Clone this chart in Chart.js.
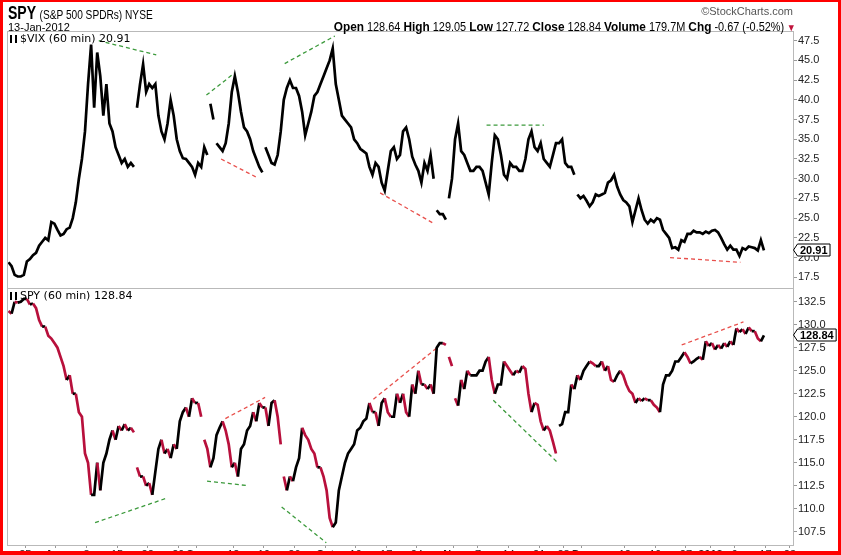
<!DOCTYPE html>
<html>
<head>
<meta charset="utf-8">
<script src="https://cdn.jsdelivr.net/npm/chart.js@4.4.1/dist/chart.umd.min.js"></script>
<style>
  html, body { margin: 0; padding: 0; background: #fff; }
  #wrap { position: relative; width: 841px; height: 555px; overflow: hidden; }
  #c { position: absolute; left: 0; top: 0; }
  .t { position: absolute; white-space: nowrap; font-family: 'Liberation Sans', Arial, sans-serif; color: #000; line-height: 1; }
  .lbl { font-family: 'DejaVu Sans', sans-serif; font-size: 11px; }
  .ico { display: inline-block; width: 7px; height: 8px; margin-right: 3px; border-left: 2px solid #000; border-right: 2px solid #000; box-sizing: border-box; vertical-align: -1px; }
  #frame { position: absolute; left: 0; top: 0; width: 841px; height: 555px; box-sizing: border-box;
           border: 3px solid #f00; border-top-width: 2px; border-bottom-width: 4px; pointer-events: none; }
</style>
</head>
<body>
<div id="wrap">
  <canvas id="c" width="841" height="555"></canvas>
  <div class="t" style="left:8px;top:4px;transform:scaleX(0.78);transform-origin:left top;"><b style="font-size:18px;">SPY</b> <span style="font-size:13px;">(S&amp;P 500 SPDRs) NYSE</span></div>
  <div class="t" style="right:48px;top:6px;font-size:11px;color:#555;">&copy;StockCharts.com</div>
  <div class="t" style="left:8px;top:22px;font-size:11px;">13-Jan-2012</div>
  <div class="t" style="right:45px;top:20px;font-size:12px;transform:scaleX(0.91);transform-origin:right top;"><b style="font-size:13px;">Open</b> 128.64 <b style="font-size:13px;">High</b> 129.05 <b style="font-size:13px;">Low</b> 127.72 <b style="font-size:13px;">Close</b> 128.84 <b style="font-size:13px;">Volume</b> 179.7M <b style="font-size:13px;">Chg</b> -0.67 (-0.52%)<span style="color:#c0143c;font-size:10px;"> &#9660;</span></div>
  <div class="t lbl" style="left:10px;top:33px;"><span class="ico"></span>$VIX (60 min) 20.91</div>
  <div class="t lbl" style="left:10px;top:290px;"><span class="ico"></span>SPY (60 min) 128.84</div>
  <div id="frame"></div>
</div>
<script>
// trading day index: 0 = 20 Jul 2011, 123 = 13 Jan 2012; two readings per day (morning, afternoon)
const vixHalf = [
  19.4,18.9, 17.8,17.6, 17.6,17.8, 19.5,19.8, 20.3,20.6, 21.5,22.0, 22.5,22.2, 24.5,24.3, 23.5,22.8, 23.0,23.6,
  23.8,25.0, 27.0,30.0, 32.5,36.0, 42.0,47.0, 39.0,46.0, 43.0,38.0, 42.0,37.0, 36.0,34.0, 33.0,32.0, 32.5,31.5,
  32.0,31.5, 39.0,42.0, 44.5,41.0, 42.0,41.5, 42.0,38.0, 36.0,35.0, 37.0,40.0, 38.0,35.0, 33.5,32.6, 32.5,32.0,
  31.5,30.5, 32.0,31.5, 34.0,33.0, 39.5,37.5, 34.5,34.0, 33.5,34.5, 37.0,41.0, 43.0,41.0, 38.5,36.5, 36.0,35.0,
  33.5,32.5, 31.5,30.8, 34.0,33.0, 32.0,31.8, 33.0,36.0, 40.0,41.5, 42.5,41.5, 41.5,40.5, 38.5,35.5, 37.0,38.5,
  40.5,41.0, 42.0,43.0, 44.0,45.0, 46.5,42.0, 40.0,38.0, 37.5,37.0, 36.5,35.0, 34.5,33.8, 33.5,33.2, 31.5,30.5,
  32.0,31.5, 29.5,28.5, 31.0,33.5, 34.0,32.5, 33.0,36.0, 36.5,35.0, 32.8,31.8, 31.0,29.5, 32.0,31.0, 33.0,30.0,
  26.0,25.5, 25.5,24.8, 27.5,30.0, 35.0,37.0, 33.5,33.0, 32.0,31.0, 31.0,31.5, 31.5,31.0, 29.5,28.0, 32.0,35.5,
  35.0,33.0, 30.5,30.0, 32.0,31.5, 31.5,31.0, 31.0,32.5, 35.0,36.0, 34.0,33.5, 34.5,32.5, 32.0,31.5, 33.0,34.5,
  34.5,35.0, 32.0,31.5, 31.5,30.5, 28.0,27.5, 27.8,27.2, 26.5,27.0, 28.0,27.8, 28.0,28.2, 29.5,29.8, 30.5,29.0,
  28.0,27.3, 27.0,26.5, 24.5,26.0, 27.5,26.0, 24.8,24.3, 24.8,24.5, 25.0,24.8, 23.5,23.0, 22.5,21.2, 21.3,21.0,
  22.2,22.0, 23.0,23.0, 23.4,23.2, 23.2,23.0, 23.3,23.1, 23.4,23.5, 23.2,22.5, 21.7,21.0, 21.5,21.0, 21.0,20.2,
  21.2,21.0, 21.4,21.3, 21.2,20.9, 22.2,20.91
];
const spyHalf = [
  131.5,131.2, 132.5,132.4, 132.5,132.8, 132.8,132.2, 132.3,131.8, 130.5,129.8, 129.8,128.8, 128.5,128.0, 127.5,126.5, 125.5,124.0,
  124.5,122.5, 122.5,120.5, 120.0,116.0, 115.0,111.5, 111.5,115.0, 112.0,115.0, 116.0,117.5, 118.5,117.5, 119.0,118.5, 119.2,118.5,
  118.8,118.3, 114.5,113.5, 113.5,112.5, 112.8,111.5, 114.0,116.5, 117.5,116.0, 116.5,115.5, 117.0,116.5, 119.5,120.5, 121.0,120.0,
  122.0,121.5, 121.5,120.0, 117.5,116.5, 114.5,115.5, 118.0,118.8, 119.5,118.5, 117.0,114.5, 115.0,113.5, 116.5,117.0, 118.5,119.0,
  120.5,119.5, 121.5,121.0, 121.0,119.0, 121.5,121.8, 120.0,117.0, 113.5,112.0, 113.5,113.0, 114.5,115.5, 118.8,118.0, 117.5,116.5,
  116.0,114.5, 114.5,113.5, 112.0,109.0, 108.0,108.5, 112.0,113.5, 115.0,116.0, 116.5,117.0, 118.5,118.8, 119.5,119.8, 121.5,120.5,
  120.5,119.0, 121.5,122.0, 120.5,120.0, 120.0,122.5, 121.5,122.5, 120.5,120.0, 123.5,122.5, 125.0,123.5, 123.5,123.0, 123.5,122.5,
  127.5,128.0, 128.0,127.8, 126.5,125.5, 122.0,121.2, 124.0,123.0, 125.0,124.5, 124.5,124.5, 125.0,125.0, 126.0,126.5, 124.0,122.5,
  123.5,123.5, 126.0,125.5, 125.0,124.5, 125.0,124.8, 125.5,125.2, 122.5,120.5, 121.5,121.3, 119.5,118.5, 119.0,118.5, 117.3,116.0,
  119.0,119.2, 120.5,120.5, 123.5,123.0, 124.5,124.0, 125.0,125.5, 126.0,125.8, 125.5,125.5, 126.0,125.0, 125.5,124.0, 123.8,124.5,
  125.0,124.5, 123.5,122.8, 122.5,121.5, 122.0,121.7, 122.0,121.8, 121.8,121.3, 121.0,120.5, 123.5,124.5, 124.5,125.0, 126.0,126.0,
  126.5,127.0, 126.5,125.8, 126.0,126.3, 126.5,126.2, 128.2,127.7, 128.0,127.3, 127.8,127.4, 128.0,127.6, 128.2,127.8, 129.6,129.2,
  129.5,129.0, 129.7,129.3, 129.3,128.5, 128.2,128.84
];
// days where the hourly feed has a hole before them
const vixBreaks = [21, 33, 34, 42, 70, 72, 93];
const spyBreaks = [21, 32, 45, 72, 73, 90];

// hand-drawn trend lines: [day, value, day, value, colour]
const vixTrends = [
  [15.0, 47.5, 24.4, 45.7, 'g'], [32.6, 40.6, 37.2, 43.4, 'g'], [35.0, 32.5, 41.0, 30.1, 'r'],
  [45.4, 44.6, 53.6, 48.1, 'g'], [61.0, 28.2, 69.6, 24.4, 'r'], [78.4, 36.8, 87.8, 36.8, 'g'],
  [108.4, 20.0, 119.9, 19.4, 'r']
];
const spyTrends = [
  [14.4, 108.5, 25.9, 111.1, 'g'], [32.7, 113.0, 39.5, 112.5, 'g'], [35.7, 119.8, 42.2, 122.1, 'r'],
  [44.9, 110.2, 52.2, 106.3, 'g'], [59.9, 121.9, 70.5, 127.6, 'r'], [79.5, 121.8, 89.9, 115.1, 'g'],
  [110.3, 127.8, 120.4, 130.3, 'r']
];

// x axis ticks (day index) and their labels
const tickDays = [3, 8, 13, 18, 23, 28, 31, 37, 42, 47, 52, 57, 62, 67, 73, 77, 82, 87, 91, 94, 101, 106, 111, 115, 119, 124, 128];
const tickText = ['25', 'Aug', '8', '15', '22', '29', 'Sep', '12', '19', '26', 'Oct', '10', '17', '24', 'Nov', '7', '14', '21', '28', 'Dec', '12', '19', '27', '2012', '9', '17', '23'];

const RED = '#b8103c';
const trendColor = { g: '#3c9a3c', r: '#e8504c' };

const toPoints = (half, breaks) => {
  const pts = [];
  for (let d = 0; d < half.length / 2; d++) {
    if (breaks.includes(d)) pts.push({ x: d, y: null });
    pts.push({ x: d + 0.25, y: half[2 * d] });
    pts.push({ x: d + 0.75, y: half[2 * d + 1] });
  }
  return pts;
};

const trendSets = (list, axis) => list.map((t) => ({
  data: [{ x: t[0], y: t[1] }, { x: t[2], y: t[3] }],
  yAxisID: axis,
  borderColor: trendColor[t[4]],
  borderWidth: 1.3,
  borderDash: [4, 3],
  pointRadius: 0,
}));

const drawTag = (ctx, x, y, text) => {
  ctx.font = 'bold 11px "Liberation Sans", Arial';
  const w = ctx.measureText(text).width + 5;
  ctx.beginPath();
  ctx.moveTo(x + 0.5, y);
  ctx.lineTo(x + 4.5, y - 6);
  ctx.lineTo(x + 4.5 + w, y - 6);
  ctx.lineTo(x + 4.5 + w, y + 6);
  ctx.lineTo(x + 4.5, y + 6);
  ctx.closePath();
  ctx.fillStyle = '#fff';
  ctx.fill();
  ctx.strokeStyle = '#000';
  ctx.lineWidth = 1;
  ctx.stroke();
  ctx.fillStyle = '#000';
  ctx.textBaseline = 'middle';
  ctx.textAlign = 'left';
  ctx.fillText(text, x + 7, y + 0.5);
};

const panels = {
  id: 'panels',
  afterDraw(chart) {
    const { ctx, chartArea } = chart;
    const sv = chart.scales.vix;
    const ss = chart.scales.spy;
    ctx.save();
    ctx.strokeStyle = '#b9b9b9';
    ctx.lineWidth = 1;
    const w = chartArea.right - chartArea.left;
    ctx.strokeRect(chartArea.left + 0.5, Math.round(sv.top) + 0.5, w, Math.round(sv.bottom - sv.top));
    ctx.strokeRect(chartArea.left + 0.5, Math.round(ss.top) + 0.5, w, Math.round(ss.bottom - ss.top));
    const vLast = vixHalf[vixHalf.length - 1];
    const sLast = spyHalf[spyHalf.length - 1];
    drawTag(ctx, sv.left, Math.round(sv.getPixelForValue(vLast)), vLast.toFixed(2));
    drawTag(ctx, ss.left, Math.round(ss.getPixelForValue(sLast)), sLast.toFixed(2));
    ctx.restore();
  },
};

const yAxis = (min, max) => ({
  type: 'linear',
  position: 'right',
  stack: 'panels',
  stackWeight: 1,
  min: min,
  max: max,
  afterFit: (s) => { s.width = 45; },
  border: { display: false },
  grid: { drawOnChartArea: false, tickLength: 4, color: '#999' },
  ticks: {
    stepSize: 2.5,
    includeBounds: false,
    autoSkip: false,
    padding: 1,
    color: '#222',
    font: { family: 'Liberation Sans', size: 11 },
    callback: (v) => v.toFixed(1),
  },
});

new Chart(document.getElementById('c'), {
  type: 'line',
  data: {
    datasets: [
      {
        data: toPoints(vixHalf, vixBreaks),
        yAxisID: 'vix',
        borderColor: '#000',
        borderWidth: 2.7,
        pointRadius: 0,
        spanGaps: false,
      },
      {
        data: toPoints(spyHalf, spyBreaks),
        yAxisID: 'spy',
        borderColor: '#000',
        borderWidth: 2.7,
        pointRadius: 0,
        spanGaps: false,
        segment: {
          borderColor: (c) => (c.p1.parsed.y < c.p0.parsed.y ? RED : '#000'),
        },
      },
      ...trendSets(vixTrends, 'vix'),
      ...trendSets(spyTrends, 'spy'),
    ],
  },
  options: {
    responsive: false,
    animation: false,
    devicePixelRatio: 1,
    layout: { padding: { left: 7, top: 31, right: 3, bottom: 0 } },
    plugins: { legend: { display: false }, tooltip: { enabled: false } },
    scales: {
      x: {
        type: 'linear',
        min: 0,
        max: 128.5,
        afterBuildTicks: (s) => { s.ticks = tickDays.map((v) => ({ value: v })); },
        afterFit: (s) => { s.height = 10; },
        border: { display: false },
        grid: { drawOnChartArea: false, tickLength: 3, color: '#999' },
        ticks: {
          autoSkip: false,
          maxRotation: 0,
          padding: 0,
          color: '#222',
          font: (c) => ({
            family: 'Liberation Sans',
            size: 11,
            weight: c.tick && (isNaN(+c.tick.label) || c.tick.label === '2012') ? 'bold' : 'normal',
          }),
          callback: (v, i) => tickText[i],
        },
      },
      vix: yAxis(16.14, 48.73),
      spy: yAxis(106.06, 133.99),
    },
  },
  plugins: [panels],
});
</script>
</body>
</html>
